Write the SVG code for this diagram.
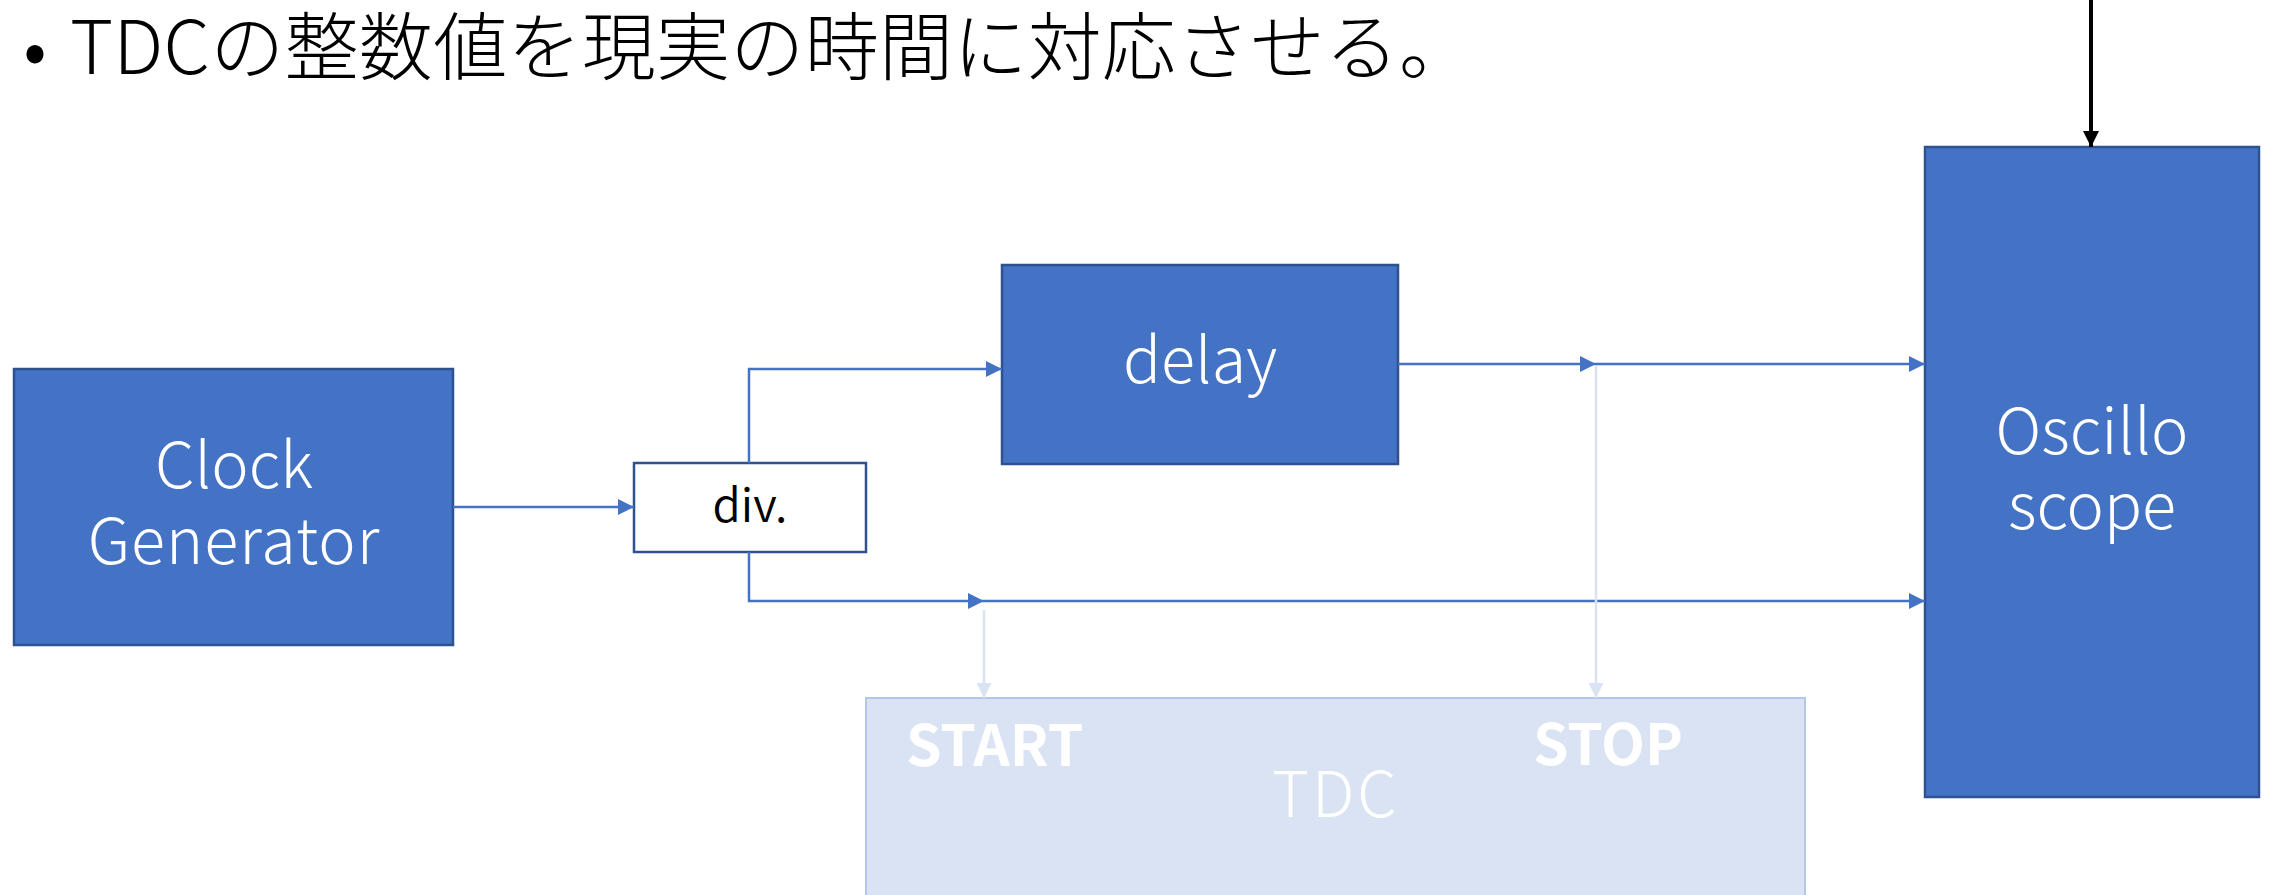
<svg xmlns="http://www.w3.org/2000/svg" width="2269" height="895" viewBox="0 0 2269 895">
<style>
.blue{fill:#4472C4;stroke:#2F528F;stroke-width:2.5}
.wbox{fill:#FFFFFF;stroke:#2F528F;stroke-width:2.5}
.tdc{fill:#DAE3F3;stroke:#B4C7E7;stroke-width:2}
.lbl{font-family:"Noto Sans CJK JP","Liberation Sans",sans-serif;font-weight:300;fill:#FFFFFF;font-size:63px;text-anchor:middle}
.div{font-family:"Noto Sans CJK JP","Liberation Sans",sans-serif;font-weight:350;fill:#000000;font-size:46px;text-anchor:middle}
.bold{font-family:"Noto Sans CJK JP","Liberation Sans",sans-serif;font-weight:700;fill:#FFFFFF;font-size:57px}
.title{font-family:"Noto Sans CJK JP","Liberation Sans",sans-serif;font-weight:300;fill:#000000;font-size:74px}
.conn{fill:none;stroke:#4472C4;stroke-width:2.5}
.light{fill:none;stroke:#DAE3F3;stroke-width:2.5}
.black{fill:none;stroke:#000000;stroke-width:4}
</style>
<defs>
<marker id="ab" markerUnits="userSpaceOnUse" markerWidth="16" markerHeight="16" refX="16" refY="8" orient="auto"><path d="M0,0 L16,8 L0,16 z" fill="#4472C4"/></marker>
<marker id="al" markerUnits="userSpaceOnUse" markerWidth="15" markerHeight="15" refX="15" refY="7.5" orient="auto"><path d="M0,0 L15,7.5 L0,15 z" fill="#DAE3F3"/></marker>
<marker id="ak" markerUnits="userSpaceOnUse" markerWidth="16" markerHeight="16" refX="16" refY="8" orient="auto"><path d="M0,0 L16,8 L0,16 z" fill="#000000"/></marker>
</defs>
<rect width="2269" height="895" fill="#FFFFFF"/>
<g id="title">
<text class="title" x="35" y="76" text-anchor="middle" font-family="Liberation Sans, sans-serif">•</text>
<text class="title" x="70" y="74" textLength="1403" lengthAdjust="spacing">TDCの整数値を現実の時間に対応させる。</text>
</g>
<g id="clock">
<rect class="blue" x="14" y="369" width="439" height="276"/>
<text class="lbl" x="234" y="488">Clock</text>
<text class="lbl" x="234" y="564" letter-spacing="1">Generator</text>
</g>
<g id="div">
<rect class="wbox" x="634" y="463" width="232" height="89"/>
<text class="div" x="750" y="522">div.</text>
</g>
<g id="delay">
<rect class="blue" x="1002" y="265" width="396" height="199"/>
<text class="lbl" x="1200" y="383">delay</text>
</g>
<g id="oscilloscope">
<rect class="blue" x="1925" y="147" width="334" height="650"/>
<text class="lbl" x="2092" y="454">Oscillo</text>
<text class="lbl" x="2092" y="529">scope</text>
</g>
<g id="tdc">
<rect class="tdc" x="866" y="698" width="939" height="260"/>
<text class="bold" x="906" y="766">START</text>
<text class="bold" x="1533" y="765">STOP</text>
<text class="lbl" x="1336" y="817" letter-spacing="3">TDC</text>
</g>
<g id="connectors">
<path class="conn" d="M453,507 H634" marker-end="url(#ab)"/>
<path class="conn" d="M749,463 V369 H1002" marker-end="url(#ab)"/>
<path class="conn" d="M749,552 V601 H984" marker-end="url(#ab)"/>
<path class="conn" d="M984,601 H1925" marker-end="url(#ab)"/>
<path class="conn" d="M1398,364 H1596" marker-end="url(#ab)"/>
<path class="conn" d="M1596,364 H1925" marker-end="url(#ab)"/>
<path class="light" d="M984,610 V698" marker-end="url(#al)"/>
<path class="light" d="M1596,366 V698" marker-end="url(#al)"/>
<path class="black" d="M2091,0 V147" marker-end="url(#ak)"/>
</g>
</svg>
